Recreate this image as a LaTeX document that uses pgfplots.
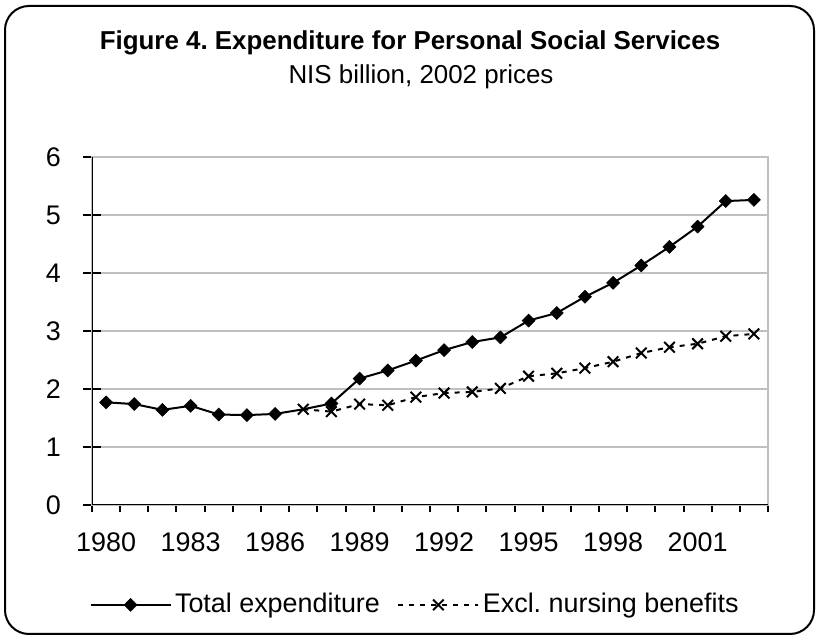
\documentclass[border=0pt]{standalone}
\usepackage{pgfplots}
\pgfplotsset{compat=1.18}
\usepackage{fontspec}
\setmainfont{Liberation Sans}
\definecolor{gridgray}{RGB}{192,192,192}

\pgfplotstableread{
year total
1980 1.77
1981 1.74
1982 1.64
1983 1.71
1984 1.56
1985 1.55
1986 1.57
1987 1.65
1988 1.75
1989 2.18
1990 2.32
1991 2.49
1992 2.67
1993 2.81
1994 2.89
1995 3.18
1996 3.31
1997 3.59
1998 3.83
1999 4.13
2000 4.45
2001 4.80
2002 5.24
2003 5.26
}\totaltab

\pgfplotstableread{
year excl
1987 1.65
1988 1.61
1989 1.74
1990 1.72
1991 1.86
1992 1.93
1993 1.95
1994 2.01
1995 2.22
1996 2.27
1997 2.36
1998 2.47
1999 2.62
2000 2.72
2001 2.78
2002 2.91
2003 2.95
}\excltab

\begin{document}
\frenchspacing
\fontsize{26}{31}\selectfont
\begin{tikzpicture}[x=1bp,y=1bp]
\path (0,0) rectangle (819,638);
\draw[line width=2bp, rounded corners=24bp] (5,4) rectangle (814,632);
\node[anchor=base, inner sep=0pt] at (410,588) {\bfseries Figure 4. Expenditure for Personal Social Services};
\node[anchor=base, inner sep=0pt] at (421,554) {NIS billion, 2002 prices};
\begin{axis}[
  at={(92bp,133bp)}, anchor=south west, scale only axis,
  width=676bp, height=348bp,
  xmin=1979.5, xmax=2003.5, ymin=0, ymax=6,
  xtick={1980,1983,...,2001},
  xticklabels={1980,1983,1986,1989,1992,1995,1998,2001},
  minor xtick={1979.5,1980.5,...,2003.5},
  ytick={0,1,2,3,4,5,6},
  tick pos=left,
  xtick align=outside, ytick align=center,
  major tick length=18bp, minor tick length=7bp,
  tick style={line width=2bp, black},
  every major x tick/.append style={draw=none},
  ymajorgrids, major grid style={gridgray, line width=1.5bp},
  axis line style={gridgray, line width=1.5bp},
  /pgf/number format/assume math mode=true,
  every tick label/.append style={font=\fontsize{27}{32}\selectfont},
  xticklabel style={anchor=base, inner sep=0pt, yshift=-29bp},
  yticklabel style={anchor=east, inner sep=0pt, xshift=-22bp},
  legend columns=2,
  legend cell align=left,
  legend style={at={(rel axis cs:0.479,-0.287)}, anchor=center, draw=none, fill=none,
    font=\fontsize{27}{32}\selectfont,
    nodes={inner xsep=3.5bp},
    /tikz/every even column/.append style={column sep=14bp}},
  legend image code/.code={\draw[mark repeat=2,mark phase=2,#1] plot coordinates {(0bp,0bp) (40bp,0bp) (80bp,0bp)};},
]
\addplot[black, line width=2bp, mark=square*, mark size=4.6bp,
  mark options={rotate=45, solid, fill=black, line width=0.5bp},
  mark indices={1,2,3,4,5,6,7,9,10,11,12,13,14,15,16,17,18,19,20,21,22,23,24}, forget plot]
  table[x=year, y=total] {\totaltab};
\addlegendimage{black, line width=2bp, mark=square*, mark size=4.6bp,
  mark options={rotate=45, solid, fill=black, line width=0.5bp}}
\addlegendentry{Total expenditure}
\addplot[black, line width=2bp, dash pattern=on 5bp off 6bp, mark=x, mark size=7.5bp,
  mark options={solid, line width=2bp}]
  table[x=year, y=excl] {\excltab};
\addlegendentry{Excl. nursing benefits}
\draw[black, line width=2bp] (rel axis cs:0,1) -- (rel axis cs:0,0) -- (rel axis cs:1,0);
\end{axis}
\end{tikzpicture}
\end{document}
